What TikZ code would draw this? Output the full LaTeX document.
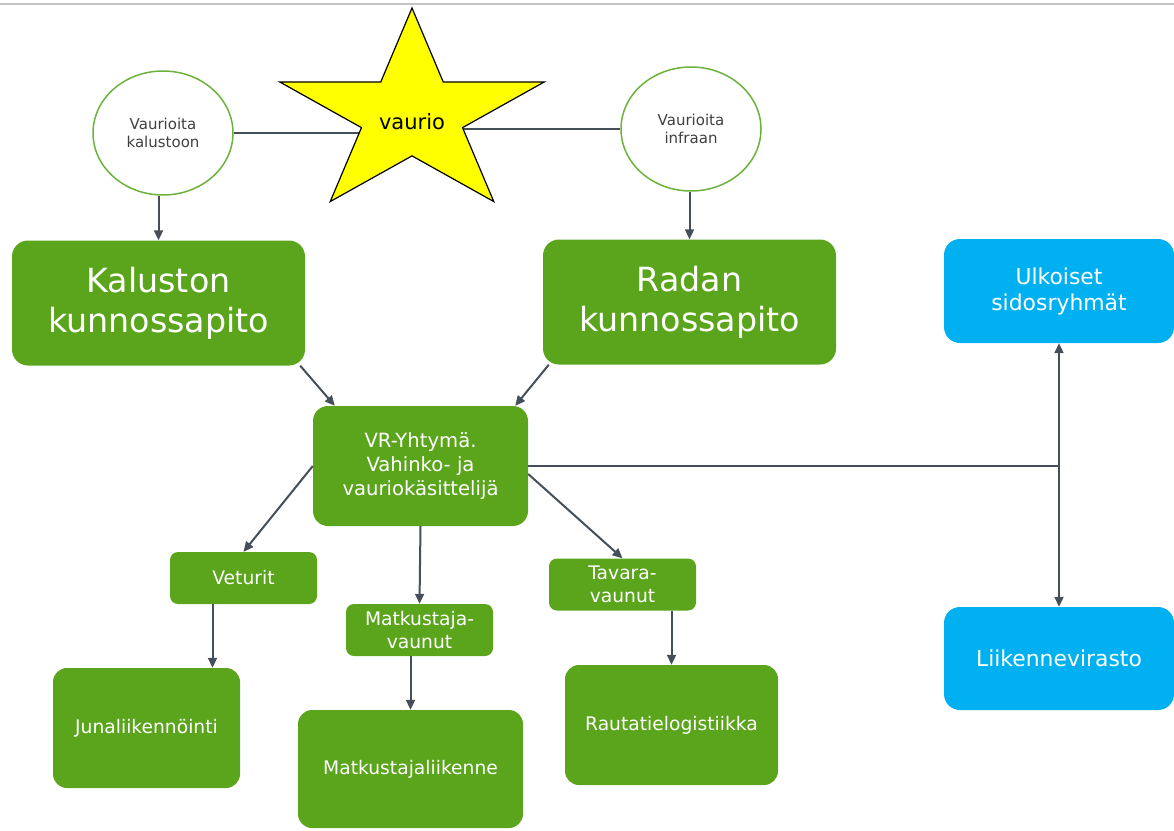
\documentclass[tikz,border=0pt]{standalone}
\usepackage{fontspec}
\setmainfont{DejaVu Sans}
\usepackage{tikz}
\usetikzlibrary{shapes.geometric,arrows.meta,backgrounds}
\definecolor{leaf}{HTML}{5AA51C}
\definecolor{sky}{HTML}{00B0F0}
\definecolor{ink}{HTML}{454F59}
\definecolor{ring}{HTML}{6CB33E}
\definecolor{sun}{HTML}{FFFF00}
\definecolor{rim}{HTML}{C4C4C4}
\tikzset{
  >={Triangle[length=10pt,width=9pt]},
  box/.style={fill=leaf, text=white, align=center, inner sep=0pt},
  bigbox/.style={box, minimum width=293pt, minimum height=125pt, rounded corners=16pt, font=\fontsize{33.3}{40}\selectfont},
  midbox/.style={box, rounded corners=15pt, font=\fontsize{19.6}{24}\selectfont},
  smallbox/.style={box, minimum width=147pt, minimum height=52pt, rounded corners=8pt, font=\fontsize{18.7}{23}\selectfont},
  endbox/.style={box, minimum height=120pt, rounded corners=14pt, font=\fontsize{18.7}{23}\selectfont},
  bluebox/.style={box, fill=sky, minimum width=230pt, minimum height=104pt, rounded corners=16pt, font=\fontsize{21.9}{26}\selectfont},
  circ/.style={ellipse, draw=ring, line width=1.5pt, fill=white, minimum width=140pt, minimum height=124pt, inner sep=0pt, align=center, text=black!75, font=\fontsize{15}{18}\selectfont},
  vstar/.style={star, star points=5, star point ratio=2.618, minimum size=214pt, inner sep=0pt, draw=black, line width=1.2pt, fill=sun, xscale=1.3, transform shape},
  labv/.style={text=black, font=\fontsize{21}{25}\selectfont},
  plain/.style={draw=ink, line width=2pt},
  link/.style={plain, ->}
}

\begin{document}
\begin{tikzpicture}[x=1pt, y=-1pt]
  \useasboundingbox (0,0) rectangle (1174,830);
  \draw[rim, line width=1.5pt] (0,4) -- (1174,4);

  % top row: star and the two circles
  \node[vstar] (ST) at (412,115) {};
  \node[labv] (STT) at (412,122) {vaurio};
  \node[circ] (KC) at (163,133) {Vaurioita\\kalustoon};
  \node[circ] (RC) at (691,129) {Vaurioita\\infraan};
  \begin{scope}[on background layer]
    \draw[plain] (KC.east) -- (KC.east -| ST.center);
    \draw[plain] (RC.west) -- (RC.west -| ST.center);
  \end{scope}

  % maintenance
  \node[bigbox] (KK) at (158.5,303) {Kaluston\\kunnossapito};
  \node[bigbox] (RK) at (689.5,302) {Radan\\kunnossapito};
  \node[midbox, minimum width=215pt, minimum height=120pt] (VR) at (420.5,466)
    {VR-Yhtymä.\\Vahinko- ja\\vauriokäsittelijä};

  % wagons
  \node[smallbox] (VE) at (243.5,578) {Veturit};
  \node[smallbox] (MV) at (419.5,630) {Matkustaja-\\vaunut};
  \node[smallbox] (TV) at (622.5,584.5) {Tavara-\\vaunut};

  % business units
  \node[endbox, minimum width=187pt] (JL) at (146.5,728) {Junaliikennöinti};
  \node[endbox, minimum width=225pt, minimum height=118pt] (ML) at (410.5,769) {Matkustajaliikenne};
  \node[endbox, minimum width=213pt] (RL) at (671.5,725) {Rautatielogistiikka};

  % outside
  \node[bluebox] (US) at (1059,291) {Ulkoiset\\sidosryhmät};
  \node[bluebox, minimum height=103pt] (LV) at (1059,658.5) {Liikennevirasto};

  \draw[link] (KK.north |- KC.south) -- (KK.north);
  \draw[link] (RK.north |- RC.south) -- (RK.north);
  \draw[link] ([xshift=-5pt]KK.south east) -- ([xshift=22pt]VR.north west);
  \draw[link] ([xshift=6pt]RK.south west) -- ([xshift=-13pt]VR.north east);
  \draw[link] (VR.west) -- (VE.north);
  \draw[link] (VR.south) -- (MV.north);
  \draw[link] ([yshift=-8pt]VR.east) -- (TV.north);
  \draw[link] ([xshift=-31pt]VE.south) -- ([xshift=-31pt]VE.south |- JL.north);
  \draw[link] (ML.north |- MV.south) -- (ML.north);
  \draw[link] (RL.north |- TV.south) -- (RL.north);

  \coordinate (J) at (VR.east -| US.south);
  \draw[plain] (VR.east) -- (J);
  \draw[plain, <->] (US.south) -- (LV.north);
\end{tikzpicture}
\end{document}
